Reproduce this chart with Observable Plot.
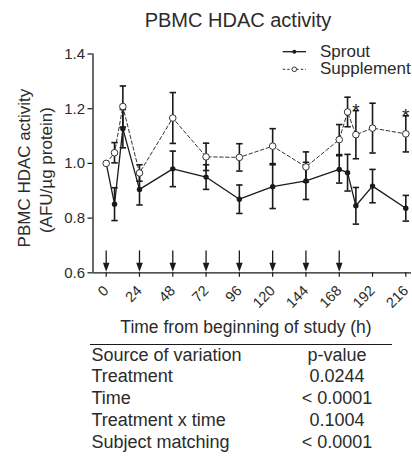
<!DOCTYPE html>
<html>
<head>
<meta charset="utf-8">
<script src="https://cdn.jsdelivr.net/npm/d3@7"></script>
<script src="https://cdn.jsdelivr.net/npm/@observablehq/plot@0.6"></script>
<style>
  html, body { margin: 0; padding: 0; background: #fff; }
  #wrap { position: relative; width: 412px; height: 462px; overflow: hidden; font-family: "Liberation Sans", Arial, sans-serif; color: #2b2b2b; }
  .abs { position: absolute; white-space: nowrap; }
  #chart { position: absolute; left: 0; top: 0; }
  .row { position: absolute; left: 0; width: 302px; height: 21.8px; line-height: 21.8px; font-size: 18px; }
  .row .src { position: absolute; left: 1.5px; }
  .row .p { position: absolute; left: 187px; width: 120px; text-align: center; }
</style>
</head>
<body>
<div id="wrap">
  <div id="chart"></div>
</div>
<script>
// ---- data ----
const times = [0, 6, 12, 24, 48, 72, 96, 120, 144, 168, 174, 180, 192, 216];
const sproutMean = [1.00, 0.851, 1.127, 0.905, 0.980, 0.950, 0.869, 0.915, 0.936, 0.978, 0.966, 0.845, 0.917, 0.836];
const sproutSem  = [0, 0.060, 0.070, 0.057, 0.065, 0.045, 0.052, 0.080, 0.068, 0.050, 0.067, 0.067, 0.061, 0.047];
const supplementMean = [1.00, 1.039, 1.208, 0.965, 1.166, 1.024, 1.022, 1.063, 0.987, 1.087, 1.188, 1.105, 1.129, 1.108];
const supplementSem  = [0, 0.037, 0.075, 0.030, 0.093, 0.050, 0.050, 0.064, 0.055, 0.055, 0.054, 0.088, 0.091, 0.066];
const doseTimes = [0, 24, 48, 72, 96, 120, 144, 168];
const sigTimes = [180, 216];
const xTicks = [0, 24, 48, 72, 96, 120, 144, 168, 192, 216];
const yTicks = [0.6, 0.8, 1.0, 1.2, 1.4];
const xDomain = [-9.52, 220.1];
const yDomain = [0.6, 1.4];
const arrowTop = 0.68, arrowTip = 0.604;
const titleText = "PBMC HDAC activity";
const yLabelLines = ["PBMC HDAC activity", "(AFU/\u00b5g protein)"];
const xLabelText = "Time from beginning of study (h)";
const seriesNames = ["Sprout", "Supplement"];
const statsHeader = ["Source of variation", "p-value"];
const statsSource = ["Treatment", "Time", "Treatment x time", "Subject matching"];
const statsP = ["0.0244", "< 0.0001", "0.1004", "< 0.0001"];

// ---- build tables ----
const sprout = times.map((t, i) => ({t, m: sproutMean[i], e: sproutSem[i]}));
const supp = times.map((t, i) => ({t, m: supplementMean[i], e: supplementSem[i]}));
const caps = rows => rows.filter(d => d.e > 0).flatMap(d => [{t: d.t, y: d.m - d.e}, {t: d.t, y: d.m + d.e}]);
const suppByT = new Map(supp.map(d => [d.t, d]));
const stars = sigTimes.map(t => ({t, y: suppByT.get(t).m + suppByT.get(t).e}));

const ink = "#1a1a1a";
const textInk = "#2b2b2b";
const capSymbol = { draw(ctx) { ctx.moveTo(-3.2, 0); ctx.lineTo(3.2, 0); } };
const headSymbol = { draw(ctx) { ctx.moveTo(0, 0); ctx.lineTo(-3.3, -9); ctx.lineTo(3.3, -9); ctx.closePath(); } };

const plot = Plot.plot({
  width: 412,
  height: 340,
  marginLeft: 92.5,
  marginRight: 1,
  marginTop: 53.5,
  marginBottom: 67.7,
  x: {domain: xDomain},
  y: {domain: yDomain},
  style: {fontFamily: "'Liberation Sans', Arial, sans-serif", fontSize: "15px", color: textInk, background: "transparent", overflow: "visible"},
  marks: [
    Plot.ruleX([xDomain[0]], {stroke: ink, strokeWidth: 1.3}),
    Plot.ruleY([yDomain[0]], {stroke: ink, strokeWidth: 1.3}),
    Plot.axisY({ticks: yTicks, tickFormat: d3.format(".1f"), tickSize: 5, tickPadding: 3, label: null, fontSize: 15, stroke: ink, strokeWidth: 1.2, fill: textInk}),
    Plot.axisX({ticks: xTicks, tickSize: 4.5, tickFormat: () => "", label: null, stroke: ink, strokeWidth: 1.2}),
    Plot.text(xTicks, {x: d => d, frameAnchor: "bottom", text: d => String(d), rotate: -45, textAnchor: "end", lineAnchor: "middle", dy: 15.5, fontSize: 14.5, fill: textInk}),
    // dosing arrows
    Plot.ruleX(doseTimes, {x: d => d, y1: arrowTop, y2: arrowTip + 0.02, stroke: ink, strokeWidth: 1.3}),
    Plot.dot(doseTimes, {x: d => d, y: arrowTip, symbol: headSymbol, fill: ink, stroke: "none", r: 3}),
    // error bars
    Plot.ruleX(supp.filter(d => d.e > 0), {x: "t", y1: d => d.m - d.e, y2: d => d.m + d.e, stroke: ink, strokeWidth: 1.6}),
    Plot.dot(caps(supp), {x: "t", y: "y", symbol: capSymbol, stroke: ink, strokeWidth: 1.6, fill: "none", r: 3}),
    Plot.ruleX(sprout.filter(d => d.e > 0), {x: "t", y1: d => d.m - d.e, y2: d => d.m + d.e, stroke: ink, strokeWidth: 1.6}),
    Plot.dot(caps(sprout), {x: "t", y: "y", symbol: capSymbol, stroke: ink, strokeWidth: 1.6, fill: "none", r: 3}),
    // lines
    Plot.line(supp, {x: "t", y: "m", stroke: "#333", strokeWidth: 1, strokeDasharray: "3.5,2.5"}),
    Plot.line(sprout, {x: "t", y: "m", stroke: ink, strokeWidth: 1.3}),
    // points
    Plot.dot(sprout, {x: "t", y: "m", r: 2.7, fill: ink, stroke: "none"}),
    Plot.dot(supp, {x: "t", y: "m", r: 3.3, fill: "white", stroke: "#333", strokeWidth: 1}),
    // significance stars
    Plot.text(stars, {x: "t", y: "y", text: () => "*", lineAnchor: "bottom", dy: 6, fontSize: 19, fill: ink})
  ]
});
document.getElementById("chart").appendChild(plot);

const wrap = document.getElementById("wrap");
function addText(txt, cx, cy, size, extra) {
  const h = size * 1.3;
  const el = document.createElement("div");
  el.className = "abs";
  el.textContent = txt;
  el.style.fontSize = size + "px";
  el.style.height = h + "px";
  el.style.lineHeight = h + "px";
  el.style.left = cx + "px";
  el.style.top = (cy - h / 2) + "px";
  el.style.transform = "translateX(-50%)" + (extra || "");
  wrap.appendChild(el);
  return el;
}
// title
addText(titleText, 238, 20, 20);
// x-axis title
addText(xLabelText, 246, 327, 17.5);
// y-axis title (rotated)
addText(yLabelLines[0], 25, 168, 17, " rotate(-90deg)");
addText(yLabelLines[1], 47, 170, 17, " rotate(-90deg)");

// legend
const ns = "http://www.w3.org/2000/svg";
const lg = document.createElementNS(ns, "svg");
lg.setAttribute("width", 30); lg.setAttribute("height", 40);
lg.style.position = "absolute"; lg.style.left = "280px"; lg.style.top = "40px";
lg.innerHTML =
  `<line x1="2.7" x2="26" y1="11.7" y2="11.7" stroke="${ink}" stroke-width="1.3"/>` +
  `<circle cx="14.3" cy="11.7" r="2" fill="${ink}"/>` +
  `<line x1="2.7" x2="26" y1="29.3" y2="29.3" stroke="#333" stroke-width="1" stroke-dasharray="2.5,2"/>` +
  `<circle cx="14.3" cy="29.3" r="2.3" fill="white" stroke="#333" stroke-width="1"/>`;
wrap.appendChild(lg);
[[seriesNames[0], 51.7], [seriesNames[1], 69.3]].forEach(([name, cy]) => {
  const el = document.createElement("div");
  el.className = "abs";
  el.textContent = name;
  el.style.fontSize = "17px";
  el.style.height = "22px"; el.style.lineHeight = "22px";
  el.style.left = "320px"; el.style.top = (cy - 11) + "px";
  wrap.appendChild(el);
});

// stats table
const tbl = document.createElement("div");
tbl.className = "abs";
tbl.style.left = "90px"; tbl.style.top = "344px"; tbl.style.width = "302px"; tbl.style.height = "110px";
tbl.style.borderTop = "1px solid " + ink;
const allRows = [statsHeader].concat(statsSource.map((s, i) => [s, statsP[i]]));
allRows.forEach(([s, p], i) => {
  const r = document.createElement("div");
  r.className = "row";
  r.style.top = (i * 21.8 - 0.5) + "px";
  const a = document.createElement("span"); a.className = "src"; a.textContent = s;
  const b = document.createElement("span"); b.className = "p"; b.textContent = p;
  r.appendChild(a); r.appendChild(b);
  tbl.appendChild(r);
});
wrap.appendChild(tbl);
</script>
</body>
</html>
